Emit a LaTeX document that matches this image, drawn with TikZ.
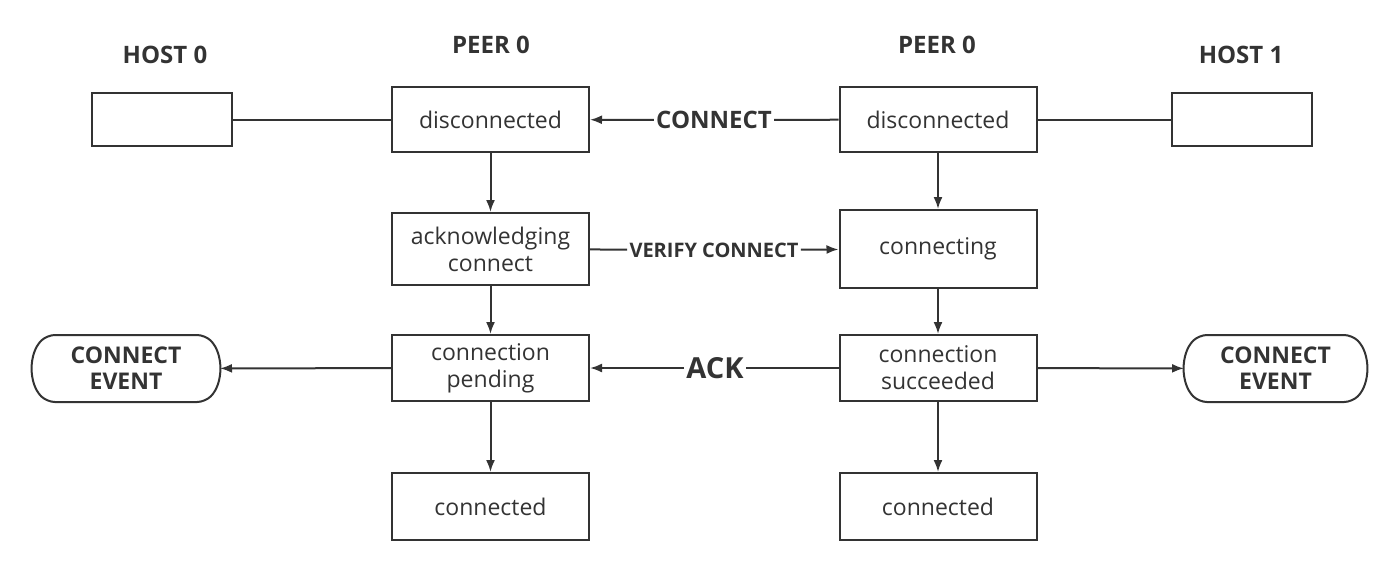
\documentclass[tikz,border=0pt]{standalone}
\usepackage{fontspec}
\setmainfont{Open Sans}
\usetikzlibrary{arrows.meta,shapes.misc}
\definecolor{ink}{HTML}{333333}
\begin{document}
\begin{tikzpicture}[x=0.5pt,y=-0.5pt,
  every node/.style={text=ink},
  state/.style={draw=ink,line width=1pt,fill=white,align=center,font=\fontsize{11.5}{13.5}\selectfont,inner sep=0pt},
  host/.style={draw=ink,line width=1pt,minimum width=70pt,minimum height=26.5pt},
  event/.style={draw=ink,line width=1pt,rounded rectangle,rounded rectangle arc length=90,rounded corners=4pt,align=center,font=\bfseries\fontsize{11.5}{13}\selectfont,minimum height=33.5pt,inner sep=0pt},
  title/.style={font=\bfseries\fontsize{12}{14}\selectfont},
  msg/.style={font=\bfseries\fontsize{12}{14}\selectfont,inner sep=1pt},
  link/.style={draw=ink,line width=1pt},
  flow/.style={link,-{Latex[length=6pt,width=4.5pt]}}]
\useasboundingbox (0,0) rectangle (1394,575);
% column titles
\node[title] (t0) at (165,55) {HOST 0};
\node[title] (t1) at (491,45) {PEER 0};
\node[title] (t2) at (937,45) {PEER 0};
\node[title] (t3) at (1241,55) {HOST 1};
% hosts
\node[host] (h0) at (162,119.5) {};
\node[host] (h1) at (1241.5,119.5) {};
% peer 0
\node[state,minimum width=98.5pt,minimum height=32.5pt] (d0) at (490.5,119.5) {disconnected};
\node[state,minimum width=98.5pt,minimum height=36pt] (ack) at (490.5,249) {acknowledging\\connect};
\node[state,minimum width=98.5pt,minimum height=33pt] (pend) at (490.5,368) {connection\\pending};
\node[state,minimum width=98.5pt,minimum height=33.5pt] (c0) at (490.5,506.5) {connected};
% peer 1
\node[state,minimum width=98.5pt,minimum height=32.5pt] (d1) at (938,119.5) {disconnected};
\node[state,minimum width=98.5pt,minimum height=39pt] (cing) at (938,249) {connecting};
\node[state,minimum width=98.5pt,minimum height=33pt] (succ) at (938,368) {connection\\succeeded};
\node[state,minimum width=98.5pt,minimum height=33.5pt] (c1) at (938,506.5) {connected};
% events
\node[event,minimum width=93pt] (e0) at (126,368.5) {CONNECT\\EVENT};
\node[event,minimum width=90.5pt] (e1) at (1275.5,368.5) {CONNECT\\EVENT};
% messages
\node[msg] (mconn) at (714,120) {CONNECT};
\node[msg,font=\bfseries\fontsize{10}{12}\selectfont] (mver) at (714,250) {VERIFY CONNECT};
\node[msg,font=\bfseries\fontsize{14.5}{16}\selectfont] (mack) at (715,368) {ACK};
% connectors
\draw[link] (h0) -- (d0);
\draw[link] (d1) -- (h1);
\draw[link] (d1) -- (mconn);
\draw[flow] (mconn) -- (d0);
\draw[link] (ack) -- (mver);
\draw[flow] (mver) -- (cing);
\draw[link] (succ) -- (mack);
\draw[flow] (mack) -- (pend);
\draw[flow] (pend) -- (e0);
\draw[flow] (succ) -- (e1);
\foreach \a/\b in {d0/ack,ack/pend,pend/c0,d1/cing,cing/succ,succ/c1}
  \draw[flow] (\a) -- (\b);
\end{tikzpicture}
\end{document}
